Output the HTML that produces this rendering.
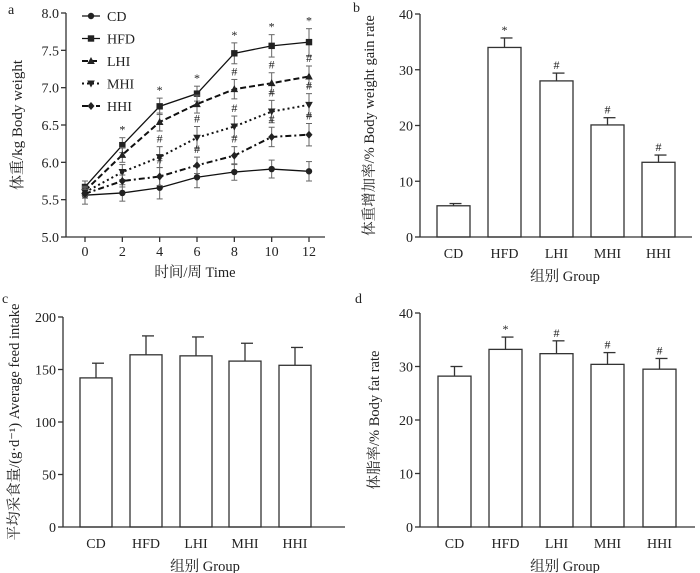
<!DOCTYPE html>
<html><head><meta charset="utf-8"><style>
body{margin:0;background:#fff;}
svg{display:block;font-family:"Liberation Serif","Noto Serif CJK SC",serif;}
text{fill:#222;}
</style></head><body>
<svg id="fig" width="700" height="573" viewBox="0 0 700 573" xmlns="http://www.w3.org/2000/svg"></svg>
<script>
// Panel a data
const weeks=[0,2,4,6,8,10,12];
const aSeriesNames=["CD","HFD","LHI","MHI","HHI"];
const cdW=[5.56,5.59,5.66,5.80,5.87,5.91,5.88];
const hfdW=[5.67,6.23,6.75,6.92,7.46,7.56,7.61];
const lhiW=[5.62,6.10,6.54,6.78,6.98,7.06,7.15];
const mhiW=[5.60,5.87,6.07,6.33,6.48,6.68,6.77];
const hhiW=[5.58,5.75,5.81,5.96,6.09,6.34,6.37];
const cdE=[0.12,0.11,0.15,0.14,0.11,0.12,0.13];
const hfdE=[0.08,0.10,0.11,0.10,0.14,0.15,0.18];
const lhiE=[0.06,0.10,0.12,0.12,0.13,0.14,0.14];
const mhiE=[0.06,0.10,0.14,0.15,0.14,0.15,0.15];
const hhiE=[0.06,0.08,0.12,0.11,0.12,0.13,0.15];
const hfdMarks=["","*","*","*","*","*","*"];
const lhiMarks=["","","","","#","#","#"];
const mhiMarks=["","","#","#","#","#","#"];
const hhiMarks=["","","#","#","#","#","#"];
const aYTicks=[5.0,5.5,6.0,6.5,7.0,7.5,8.0];
// Bar panel data
const groups=["CD","HFD","LHI","MHI","HHI"];
const gainVals=[5.6,34.0,28.0,20.1,13.4];
const gainErr=[0.4,1.7,1.4,1.3,1.3];
const gainMarks=["","*","#","#","#"];
const gainTicks=[0,10,20,30,40];
const feedVals=[142,164,163,158,154];
const feedErr=[14,18,18,17,17];
const feedMarks=["","","","",""];
const feedTicks=[0,50,100,150,200];
const fatVals=[28.2,33.2,32.4,30.4,29.5];
const fatErr=[1.8,2.3,2.4,2.2,2.0];
const fatMarks=["","*","#","#","#"];
const fatTicks=[0,10,20,30,40];

const svg=document.getElementById('fig');
const NS="http://www.w3.org/2000/svg";
function el(tag,attrs,name,inter,parent){
  const e=document.createElementNS(NS,tag);
  for(const k in attrs)e.setAttribute(k,attrs[k]);
  
  
  (parent||svg).appendChild(e);return e;
}
function txt(x,y,s,name,opts){
  const o=Object.assign({x:x,y:y,'font-size':14,'text-anchor':'middle'},opts||{});
  const t=el('text',o,name,'false');t.textContent=s;return t;
}
const st={stroke:'#333','stroke-width':1.3,fill:'none'};

// ---------- Panel a ----------
const ax={x0:66,x1:325,y0:237,y1:13};
const xa=w=>85+w/12*224;
const ya=v=>237-(v-5)/3*224;
txt(8,14,"a","panel-a-label",{'text-anchor':'start'});
el('line',Object.assign({x1:66,y1:ax.y1,x2:66,y2:237},st),'y-axis-a','false');
el('line',Object.assign({x1:66,y1:237,x2:ax.x1,y2:237},st),'x-axis-a','false');
aYTicks.forEach(v=>{const y=ya(v);
  el('line',Object.assign({x1:61,y1:y,x2:66,y2:y},st),'y-tick-a','false');
  txt(59,y+5,v.toFixed(1),'y-tick-label-a',{'text-anchor':'end'});});
weeks.forEach(w=>{const x=xa(w);
  el('line',Object.assign({x1:x,y1:237,x2:x,y2:242},st),'x-tick-a','false');
  txt(x,256,String(w),'x-tick-label-a');});
txt(195,277,"时间/周 Time","x-axis-title-a",{'font-size':14.5});
txt(0,0,"体重/kg Body weight","y-axis-title-a",{transform:"translate(22,125) rotate(-90)",'font-size':15});
const series=[
 {n:"CD",v:cdW,e:cdE,m:null,dash:"",mk:"circle",tm:null},
 {n:"HFD",v:hfdW,e:hfdE,m:"square",dash:"",mk:"square",tm:hfdMarks},
 {n:"LHI",v:lhiW,e:lhiE,dash:"6,3",mk:"tri",tm:lhiMarks},
 {n:"MHI",v:mhiW,e:mhiE,dash:"2,3",mk:"itri",tm:mhiMarks},
 {n:"HHI",v:hhiW,e:hhiE,dash:"6,3,2,3",mk:"diamond",tm:hhiMarks}];
function marker(x,y,type,name){
  if(type==="circle")el('circle',{cx:x,cy:y,r:3.2,fill:'#222'},name,'false');
  else if(type==="square")el('rect',{x:x-3.2,y:y-3.2,width:6.4,height:6.4,fill:'#222'},name,'false');
  else if(type==="tri")el('polygon',{points:`${x},${y-4} ${x-3.8},${y+3} ${x+3.8},${y+3}`,fill:'#222'},name,'false');
  else if(type==="itri")el('polygon',{points:`${x},${y+4} ${x-3.8},${y-3} ${x+3.8},${y-3}`,fill:'#222'},name,'false');
  else el('polygon',{points:`${x},${y-4} ${x+3.5},${y} ${x},${y+4} ${x-3.5},${y}`,fill:'#222'},name,'false');
}
series.forEach(s=>{
  const lname=s.n.toLowerCase();
  s.v.forEach((v,i)=>{const x=xa(weeks[i]);
    el('line',{x1:x,y1:ya(v-s.e[i]),x2:x,y2:ya(v+s.e[i]),stroke:'#666','stroke-width':1},'error-bar-'+lname,'false');
    el('line',{x1:x-3,y1:ya(v-s.e[i]),x2:x+3,y2:ya(v-s.e[i]),stroke:'#666','stroke-width':1},'error-cap-'+lname,'false');
    el('line',{x1:x-3,y1:ya(v+s.e[i]),x2:x+3,y2:ya(v+s.e[i]),stroke:'#666','stroke-width':1},'error-cap-'+lname,'false');
  });
  const pts=s.v.map((v,i)=>xa(weeks[i])+","+ya(v)).join(" ");
  const a={points:pts,fill:'none',stroke:'#111','stroke-width':s.dash?2:1.3};
  if(s.dash)a['stroke-dasharray']=s.dash;
  el('polyline',a,'line-'+lname,'false');
  s.v.forEach((v,i)=>marker(xa(weeks[i]),ya(v),s.mk,'point-'+lname));
  if(s.tm)s.tm.forEach((t,i)=>{if(t)txt(xa(weeks[i]),ya(s.v[i]+s.e[i])-4,t,'sig-mark-'+lname,{'font-size':12});});
});
series.forEach((s,k)=>{const y=16+k*22.5;
  const a={x1:82,y1:y,x2:100,y2:y,stroke:'#111','stroke-width':s.dash?2:1.3};
  if(s.dash)a['stroke-dasharray']=s.dash;
  el('line',a,'legend-line-'+s.n.toLowerCase(),'false');
  marker(91,y,s.mk,'legend-marker-'+s.n.toLowerCase());
  txt(107,y+5,s.n,'legend-entry-'+s.n.toLowerCase(),{'text-anchor':'start'});
});

// ---------- Bar panels ----------
function barPanel(cfg){
  const {id,label,lx,ly,axX,axEnd,y0,yTop,max,ticks,vals,errs,marks,bars,bw,xlabY,titleY,titleX,yTitle,yTitleX}=cfg;
  const yf=v=>y0-v/max*(y0-yTop);
  txt(lx,ly,label,'panel-'+id+'-label',{'text-anchor':'start'});
  ticks.forEach(v=>{const y=yf(v);
    el('line',Object.assign({x1:axX-5,y1:y,x2:axX,y2:y},st),'y-tick-'+id,'false');
    txt(axX-7,y+5,String(v),'y-tick-label-'+id,{'text-anchor':'end'});});
  vals.forEach((v,i)=>{const x=bars[i];const g=groups[i].toLowerCase();
    const top=yf(v+errs[i]);
    el('line',{x1:x+bw/2,y1:yf(v),x2:x+bw/2,y2:top,stroke:'#333','stroke-width':1.3},'error-bar-'+g,'false');
    el('line',{x1:x+bw/2-4,y1:top,x2:x+bw/2+8,y2:top,stroke:'#333','stroke-width':1.3},'error-cap-'+g,'false');
    el('rect',{x:x,y:yf(v),width:bw,height:y0-yf(v),fill:'#fff',stroke:'#333','stroke-width':1.3},'bar-'+g,'false');
    if(marks[i])txt(x+bw/2,top-4,marks[i],'sig-mark-'+g,{'font-size':12});
    txt(x+bw/2,xlabY,groups[i],'x-tick-label-'+id);
  });
  el('line',Object.assign({x1:axX,y1:yTop,x2:axX,y2:y0},st),'y-axis-'+id,'false');
  el('line',Object.assign({x1:axX,y1:y0,x2:axEnd,y2:y0},st),'x-axis-'+id,'false');
  txt(titleX,titleY,"组别 Group",'x-axis-title-'+id,{'font-size':14.5});
  txt(0,0,yTitle,'y-axis-title-'+id,{transform:`translate(${yTitleX},${(y0+yTop)/2}) rotate(-90)`,'font-size':14.5});
}
barPanel({id:'b',label:'b',lx:353,ly:12,axX:420,axEnd:692,y0:237,yTop:14,max:40,ticks:gainTicks,vals:gainVals,errs:gainErr,marks:gainMarks,bars:[437,488,540,591,642],bw:33,xlabY:258,titleY:281,titleX:565,yTitle:"体重增加率/% Body weight gain rate",yTitleX:374});
barPanel({id:'c',label:'c',lx:2,ly:303,axX:63,axEnd:345,y0:527,yTop:317,max:200,ticks:feedTicks,vals:feedVals,errs:feedErr,marks:feedMarks,bars:[80,130,180,229,279],bw:32,xlabY:548,titleY:571,titleX:205,yTitle:"平均采食量/(g·d⁻¹) Average feed intake",yTitleX:19});
barPanel({id:'d',label:'d',lx:355,ly:303,axX:420,axEnd:695,y0:527,yTop:313,max:40,ticks:fatTicks,vals:fatVals,errs:fatErr,marks:fatMarks,bars:[438,489,540,591,643],bw:33,xlabY:548,titleY:571,titleX:565,yTitle:"体脂率/% Body fat rate",yTitleX:379});
</script>
</body></html>
